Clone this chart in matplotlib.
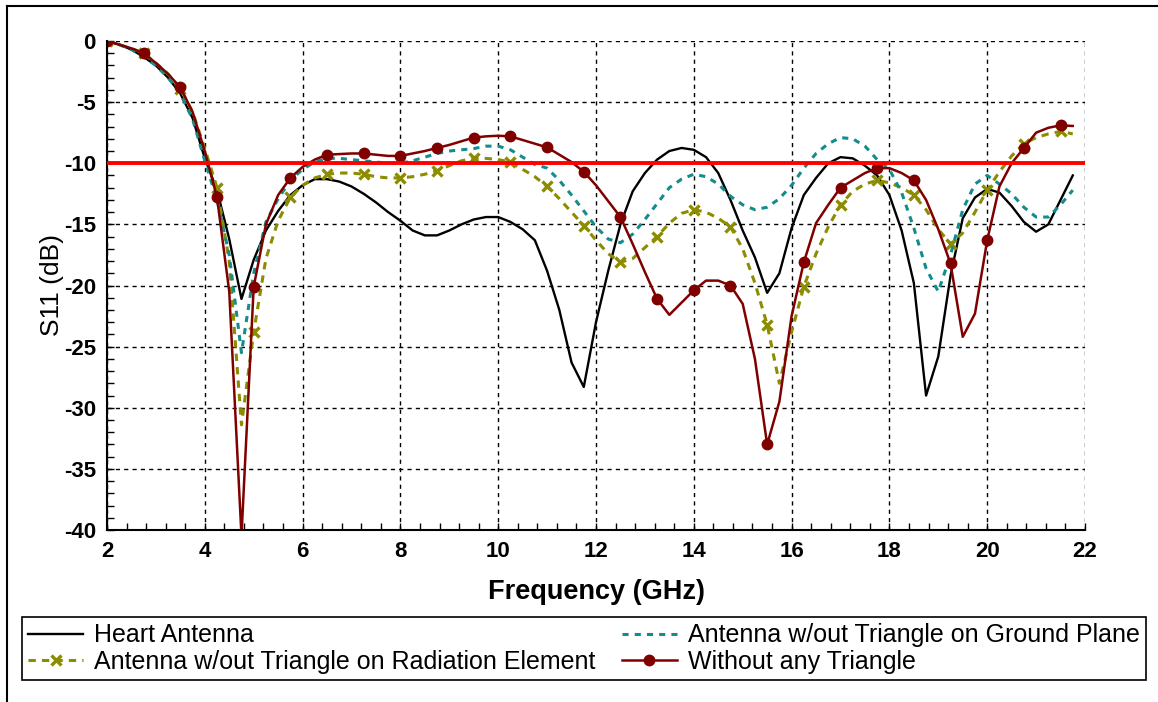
import numpy as np
import matplotlib
matplotlib.use("Agg")
import matplotlib.pyplot as plt
from matplotlib.lines import Line2D
from matplotlib.ticker import MultipleLocator

plt.rcParams["axes.unicode_minus"] = False

# frequency sweep, 2 - 21.75 GHz in 0.25 GHz steps
freq = np.arange(2.0, 21.76, 0.25)

heart = [
    0.0, -0.3, -0.7, -1.3, -2.0, -3.0, -4.3, -6.3, -9.6, -12.2,
    -16.2, -21.1, -17.9, -15.5, -13.9, -12.6, -11.8, -11.3, -11.3, -11.5,
    -11.9, -12.5, -13.2, -14.0, -14.7, -15.5, -15.9, -15.9, -15.5, -15.0,
    -14.6, -14.4, -14.4, -14.8, -15.4, -16.3, -18.8, -22.0, -26.3, -28.3,
    -23.0, -18.8, -15.0, -12.3, -10.8, -9.7, -9.0, -8.75, -8.9, -9.5,
    -10.8, -13.0, -15.5, -17.7, -20.6, -19.0, -15.3, -12.6, -11.2, -10.0,
    -9.5, -9.6, -10.2, -11.0, -12.6, -15.5, -19.8, -29.0, -25.8, -19.2,
    -14.5, -12.8, -12.1, -12.4, -13.5, -14.8, -15.6, -15.0, -13.0, -11.0,
]

no_tri_ground = [
    0.0, -0.3, -0.7, -1.3, -2.0, -3.0, -4.3, -6.4, -9.8, -13.0,
    -17.5, -25.5, -19.0, -14.8, -12.9, -11.4, -10.5, -9.9, -9.6, -9.6,
    -9.7, -9.8, -9.9, -10.0, -10.0, -9.8, -9.5, -9.2, -9.0, -8.9,
    -8.8, -8.6, -8.6, -8.9, -9.5, -10.1, -10.4, -11.4, -12.6, -13.9,
    -15.2, -16.2, -16.5, -15.8, -14.6, -13.3, -12.0, -11.3, -10.9, -11.1,
    -11.7, -12.7, -13.4, -13.8, -13.6, -12.9, -11.8, -10.4, -9.2, -8.4,
    -7.9, -8.0, -8.6, -9.7, -10.5, -12.4, -15.3, -18.6, -20.5, -17.5,
    -13.8, -11.7, -11.0, -11.7, -12.5, -13.6, -14.4, -14.4, -13.4, -12.2,
]

no_tri_radiation = [
    0.0, -0.3, -0.6, -1.0, -1.8, -2.7, -3.9, -5.8, -8.8, -12.0,
    -18.0, -31.4, -23.8, -17.8, -14.7, -12.8, -11.8, -11.2, -10.9, -10.8,
    -10.8, -10.9, -11.1, -11.2, -11.2, -11.1, -10.9, -10.6, -10.2, -9.8,
    -9.6, -9.6, -9.7, -9.9, -10.5, -11.1, -11.9, -12.9, -14.0, -15.1,
    -16.3, -17.4, -18.1, -17.8, -16.9, -16.0, -14.9, -14.1, -13.8, -14.0,
    -14.5, -15.2, -17.0, -19.8, -23.2, -28.0, -23.8, -20.1, -17.4, -15.2,
    -13.4, -12.3, -11.7, -11.4, -11.6, -12.0, -12.6, -13.8, -15.4, -16.6,
    -15.7, -14.0, -12.2, -10.7, -9.4, -8.4, -7.9, -7.6, -7.4, -7.6,
]

no_triangle = [
    0.0, -0.3, -0.6, -1.0, -1.8, -2.7, -3.8, -5.8, -9.0, -12.8,
    -20.5, -40.5, -20.1, -15.0, -12.6, -11.2, -10.3, -9.7, -9.3, -9.25,
    -9.2, -9.2, -9.3, -9.4, -9.4, -9.2, -9.0, -8.75, -8.5, -8.2,
    -7.9, -7.8, -7.75, -7.8, -8.1, -8.4, -8.7, -9.3, -9.9, -10.7,
    -11.8, -13.1, -14.4, -16.6, -18.9, -21.1, -22.4, -21.4, -20.4, -19.6,
    -19.6, -20.0, -21.5, -26.0, -33.0, -29.5, -22.5, -18.1, -14.9, -13.4,
    -12.0, -11.4, -10.8, -10.4, -10.4, -10.8, -11.4, -13.0, -15.4, -18.2,
    -24.2, -22.3, -16.3, -11.9, -10.0, -8.75, -7.5, -7.1, -6.9, -6.95,
]

threshold = -10

W, H = 1158, 702
fig = plt.figure(figsize=(W / 100, H / 100), dpi=100)
ax = fig.add_axes([107 / W, 1 - 530 / H, (1085 - 107) / W, (530 - 41) / H])

ax.plot(freq, heart, color="black", lw=1.7, label="Heart Antenna")
ax.plot(freq, no_tri_radiation, color="#8c8c00", lw=2.2, ls=(0, (2.4, 2.0)),
        marker="x", ms=7, mew=2.4, markevery=3,
        label="Antenna w/out Triangle on Radiation Element")
ax.plot(freq, no_tri_ground, color="#138c8c", lw=2.2, ls=(0, (2.0, 2.0)),
        label="Antenna w/out Triangle on Ground Plane")
ax.plot(freq, no_triangle, color="#800000", lw=1.8, marker="o", ms=7.5,
        markevery=3, label="Without any Triangle")
ax.axhline(threshold, color="#ff0000", lw=2.8, zorder=5)

ax.set_xlim(2, 22)
ax.set_ylim(-40, 0)
ax.xaxis.set_major_locator(MultipleLocator(2))
ax.xaxis.set_minor_locator(MultipleLocator(0.4))
ax.yaxis.set_major_locator(MultipleLocator(5))
ax.yaxis.set_minor_locator(MultipleLocator(1))
ax.tick_params(which="both", direction="in", top=False, right=False,
               length=5, width=1, pad=8)
for lab in ax.get_xticklabels() + ax.get_yticklabels():
    lab.set_fontsize(16)
    lab.set_fontweight("bold")
    lab.set_family("Liberation Sans")

ax.grid(True, which="major", color="black", ls=(0, (3, 3)), lw=1)
ax.spines["top"].set_visible(False)
ax.spines["right"].set_visible(False)
ax.spines["left"].set_linewidth(1.5)
ax.spines["bottom"].set_linewidth(1.5)

ax.set_xlabel("Frequency (GHz)", fontsize=19.5, fontweight="bold",
              family="Liberation Sans", labelpad=12)
ax.set_ylabel("S11 (dB)", fontsize=19, family="Liberation Sans", labelpad=0)

handles, labels = ax.get_legend_handles_labels()
fig.legend(handles, labels, loc="upper left",
           bbox_to_anchor=(22 / W, 1 - 687 / H, (1146 - 22) / W, (687 - 617) / H),
           mode="expand", ncol=2, fancybox=False, edgecolor="black",
           framealpha=1, borderpad=0.25, borderaxespad=0, labelspacing=0.1,
           handlelength=2.2, handletextpad=0.45,
           prop={"family": "Liberation Sans", "size": 18})
fig.legends[0].get_frame().set_linewidth(1.2)

# outer frame
fig.add_artist(Line2D([7 / W, 1], [1 - 6 / H, 1 - 6 / H], color="black", lw=1.5))
fig.add_artist(Line2D([7 / W, 7 / W], [0, 1 - 6 / H], color="black", lw=1.5))

fig.savefig("out.png", dpi=100)
